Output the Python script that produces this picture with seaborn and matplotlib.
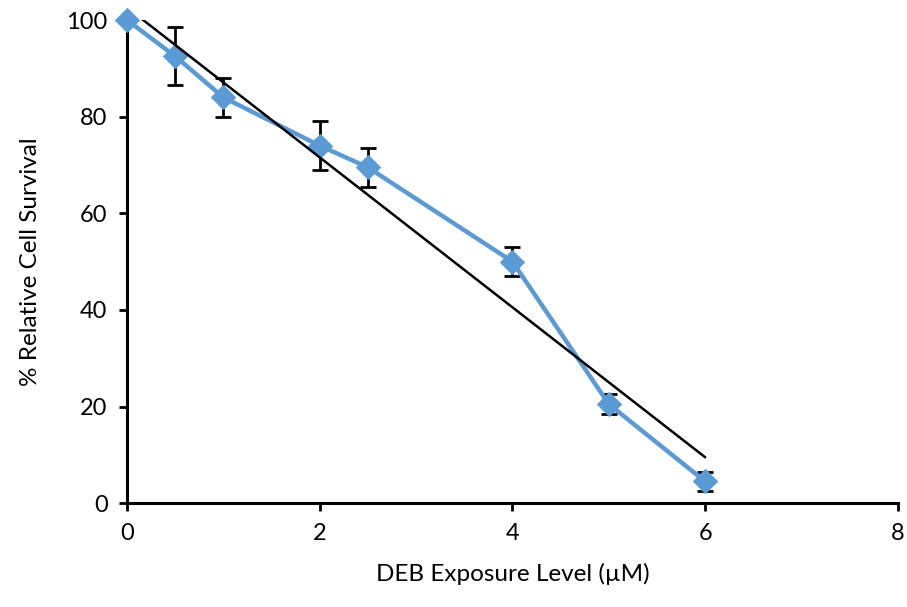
import numpy as np
import pandas as pd
import matplotlib
matplotlib.use("Agg")
import matplotlib.pyplot as plt
import seaborn as sns

doses = [0, 0.5, 1, 2, 2.5, 4, 5, 6]
survival = [100, 92.5, 84, 74, 69.5, 50, 20.5, 4.5]
errors = [0, 6, 4, 5, 4, 3, 2, 2]
x_ticks = [0, 2, 4, 6, 8]
y_ticks = [0, 20, 40, 60, 80, 100]

sns.set_theme(style="white")
plt.rcParams['font.family'] = ['Lato', 'DejaVu Sans']

df = pd.DataFrame({"dose": doses, "survival": survival, "err": errors})

fig = plt.figure(figsize=(9.07, 6.07), dpi=100)
ax = fig.add_axes([0.14, 0.171, 0.85, 0.796])

blue = "#5B9BD5"
eb = ax.errorbar(df["dose"], df["survival"], yerr=df["err"], fmt="none",
                 ecolor="black", elinewidth=2, capsize=6, capthick=2, zorder=2)
sns.lineplot(data=df, x="dose", y="survival", ax=ax, color=blue, linewidth=3.2,
             marker="D", markersize=12, markeredgecolor=blue, zorder=3)
for ln in ax.lines:
    ln.set_clip_on(False)

slope, intercept = np.polyfit(doses, survival, 1)
xt = np.array([min(doses), max(doses)])
ax.plot(xt, slope * xt + intercept, color="black", linewidth=1.8, zorder=4)

ax.set_xlim(0, 8)
ax.set_ylim(0, 100)
ax.set_xticks(x_ticks)
ax.set_yticks(y_ticks)
for s in ["top", "right"]:
    ax.spines[s].set_visible(False)
for s in ["left", "bottom"]:
    ax.spines[s].set_color("black")
    ax.spines[s].set_linewidth(2.2)
ax.tick_params(axis="both", direction="out", length=6, width=2, color="black",
               labelsize=17, labelcolor="black", bottom=True, left=True, pad=8)
ax.set_xlabel("DEB Exposure Level (µM)", fontsize=17.5, labelpad=14, color="black")
ax.set_ylabel("% Relative Cell Survival", fontsize=17.5, labelpad=18, color="black")

fig.savefig("out.png", dpi=100)
